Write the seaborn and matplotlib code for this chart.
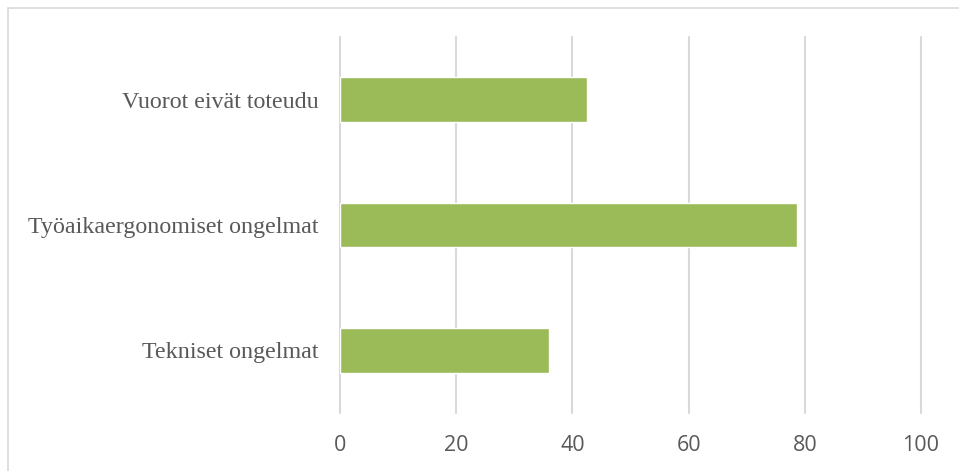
import matplotlib
matplotlib.use("Agg")
import matplotlib.pyplot as plt
import matplotlib.patches as mpatches
import seaborn as sns
import pandas as pd

# Data
categories = ["Vuorot eivät toteudu", "Työaikaergonomiset ongelmat", "Tekniset ongelmat"]
values = [42.5, 78.6, 36.0]
xticks = [0, 20, 40, 60, 80, 100]

df = pd.DataFrame({"kategoria": categories, "arvo": values})

sns.set_style("white")
fig = plt.figure(figsize=(9.59, 4.71), dpi=100)
ax = fig.add_axes([340 / 959, 1 - 413 / 471, (921 - 340) / 959, (413 - 37) / 471])

sns.barplot(data=df, y="kategoria", x="arvo", orient="h", color="#9BBB59",
            saturation=1, width=0.355, ax=ax)

ax.set_xlim(0, 100)
ax.set_ylim(2.5, -0.5)
ax.set_xticks(xticks)
ax.set_xticklabels([str(t) for t in xticks], fontfamily="Open Sans",
                   fontsize=15.5, color="#595959")
ax.set_yticks(range(len(categories)))
ax.set_yticklabels(categories, fontfamily="Liberation Serif", fontsize=17.3,
                   color="#595959")
ax.tick_params(axis="both", length=0)
ax.tick_params(axis="x", pad=16)
ax.tick_params(axis="y", pad=15.5)
ax.set_xlabel("")
ax.set_ylabel("")
for s in ax.spines.values():
    s.set_visible(False)
ax.grid(axis="x", color="#D9D9D9", linewidth=1.5)
ax.set_axisbelow(True)
for gl in ax.get_xgridlines():
    gl.set_clip_on(False)

# outer chart frame (cut off at right and bottom in the reference)
frame = mpatches.Rectangle((8 / 959, -0.1), 1.2, 1.1 - 8 / 471,
                           transform=fig.transFigure, fill=False,
                           edgecolor="#D9D9D9", linewidth=1.2)
fig.patches.append(frame)

fig.savefig("out.png", dpi=100)
